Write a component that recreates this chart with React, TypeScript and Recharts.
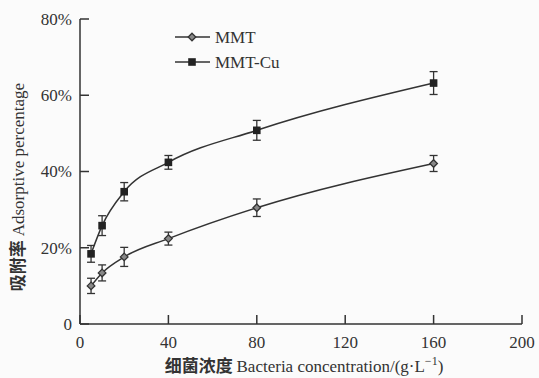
import { LineChart, Line, XAxis, YAxis, ErrorBar, Legend, Label } from 'recharts';

// Bacteria concentration, g/L
const concentrations = [5, 10, 20, 40, 80, 160];

// Adsorptive percentage (%) and error bar half-widths
const mmtValues = [10.0, 13.4, 17.6, 22.4, 30.5, 42.1];
const mmtErrors = [2.0, 2.1, 2.5, 1.7, 2.3, 2.1];
const mmtCuValues = [18.4, 25.8, 34.7, 42.4, 50.8, 63.2];
const mmtCuErrors = [2.2, 2.6, 2.4, 1.8, 2.6, 3.0];

const xTicks = [0, 40, 80, 120, 160, 200];
const yTicks = [0, 20, 40, 60, 80];

const data = concentrations.map((c, i) => ({
  c,
  mmt: mmtValues[i],
  mmtErr: mmtErrors[i],
  mmtCu: mmtCuValues[i],
  mmtCuErr: mmtCuErrors[i],
}));

const INK = '#333333';
const serif = { fontFamily: "'Liberation Serif', serif", fontSize: 17 };
const cjk = { fontFamily: "'Noto Sans CJK SC', sans-serif", fontWeight: 700, fontSize: 17 };

// Y ticks: label on the left, tick mark pointing inward
const YTick = ({ x, y, payload }: any) => (
  <g>
    <line x1={x + 8} x2={x + 17} y1={y} y2={y} stroke={INK} strokeWidth={1.5} />
    <text x={x} y={y} dy="0.35em" textAnchor="end" style={serif} fill={INK}>
      {payload.value === 0 ? '0' : `${payload.value}%`}
    </text>
  </g>
);

// X ticks: label below, tick mark pointing up into the plot
const XTick = ({ x, y, payload }: any) => (
  <g>
    <line x1={x} x2={x} y1={y - 12} y2={y - 21} stroke={INK} strokeWidth={1.5} />
    <text x={x} y={y} dy="0.71em" textAnchor="middle" style={serif} fill={INK}>
      {payload.value}
    </text>
  </g>
);

const Diamond = ({ cx, cy }: any) => (
  <path
    d={`M${cx},${cy - 3.8} L${cx + 3.8},${cy} L${cx},${cy + 3.8} L${cx - 3.8},${cy} Z`}
    fill="#888"
    stroke={INK}
    strokeWidth={1.3}
  />
);

const Square = ({ cx, cy }: any) => (
  <rect x={cx - 3.8} y={cy - 3.8} width={7.6} height={7.6} fill="#222" />
);

const renderLegend = () => (
  <svg width={120} height={50} style={{ display: 'block' }}>
    <line x1={0} x2={35} y1={11} y2={11} stroke={INK} strokeWidth={1.5} />
    <Diamond cx={17} cy={11} />
    <text x={40} y={11} dy="0.35em" style={serif} fill={INK}>MMT</text>
    <line x1={0} x2={35} y1={36} y2={36} stroke={INK} strokeWidth={1.5} />
    <Square cx={17} cy={36} />
    <text x={40} y={36} dy="0.35em" style={serif} fill={INK}>MMT-Cu</text>
  </svg>
);

const XLabel = () => (
  <text x={304} y={372} textAnchor="middle" style={serif} fill={INK}>
    <tspan style={cjk}>细菌浓度 </tspan>
    <tspan>Bacteria concentration/(g·L</tspan>
    <tspan dy={-7} style={{ fontSize: 12 }}>−1</tspan>
    <tspan dy={7}>)</tspan>
  </text>
);

const YLabel = () => (
  <text
    x={18}
    y={187}
    transform="rotate(-90, 18, 187)"
    dy="0.35em"
    textAnchor="middle"
    style={serif}
    fill={INK}
  >
    <tspan style={cjk}>吸附率 </tspan>
    <tspan>Adsorptive percentage</tspan>
  </text>
);

export default function App() {
  return (
    <div style={{ position: 'absolute', left: 0, top: 0, width: 539, height: 378, background: '#fbfbfb' }}>
      <LineChart width={539} height={378} data={data} margin={{ top: 19, right: 17, bottom: 24, left: 10 }}>
        <XAxis
          dataKey="c"
          type="number"
          domain={[0, 200]}
          ticks={xTicks}
          tickSize={0}
          tickMargin={12}
          height={30}
          tick={<XTick />}
          axisLine={{ stroke: INK, strokeWidth: 1.5 }}
        >
          <Label content={<XLabel />} />
        </XAxis>
        <YAxis
          type="number"
          domain={[0, 80]}
          ticks={yTicks}
          tickSize={0}
          tickMargin={8}
          width={70}
          tick={<YTick />}
          axisLine={{ stroke: INK, strokeWidth: 1.5 }}
        >
          <Label content={<YLabel />} />
        </YAxis>
        <Legend
          layout="vertical"
          verticalAlign="middle"
          align="center"
          wrapperStyle={{ left: 175, top: 26, width: 120 }}
          content={renderLegend}
        />
        <Line
          dataKey="mmt"
          type="monotone"
          stroke={INK}
          strokeWidth={1.5}
          dot={(p: any) => <Diamond key={`d-${p.index}`} cx={p.cx} cy={p.cy} />}
          activeDot={false}
          isAnimationActive={false}
        >
          <ErrorBar dataKey="mmtErr" direction="y" width={4} stroke={INK} strokeWidth={1.3} />
        </Line>
        <Line
          dataKey="mmtCu"
          type="monotone"
          stroke={INK}
          strokeWidth={1.5}
          dot={(p: any) => <Square key={`s-${p.index}`} cx={p.cx} cy={p.cy} />}
          activeDot={false}
          isAnimationActive={false}
        >
          <ErrorBar dataKey="mmtCuErr" direction="y" width={4} stroke={INK} strokeWidth={1.3} />
        </Line>
      </LineChart>
    </div>
  );
}
